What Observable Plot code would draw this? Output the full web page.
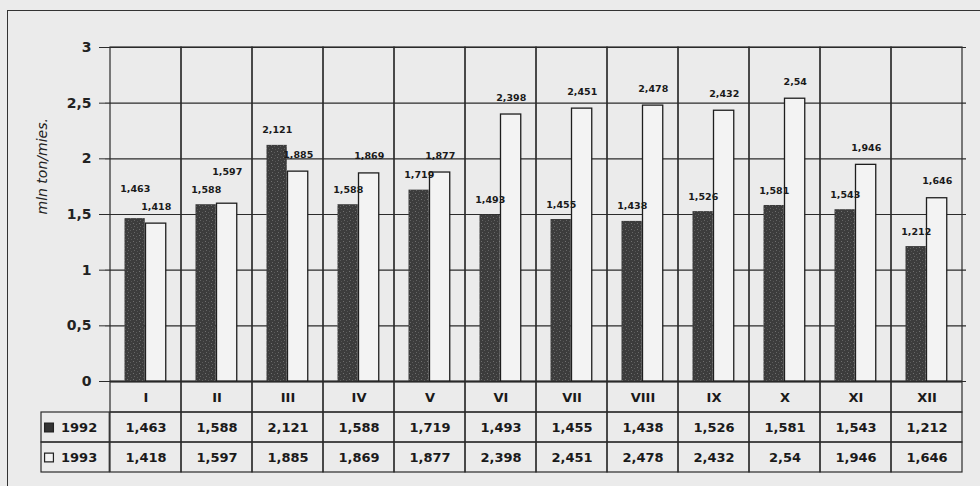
<!DOCTYPE html>
<html>
<head>
<meta charset="utf-8">
<script src="https://cdn.jsdelivr.net/npm/d3@7"></script>
<script src="https://cdn.jsdelivr.net/npm/@observablehq/plot@0.6"></script>
<style>
  html, body { margin: 0; padding: 0; background: #ebebeb; }
  #wrap { position: relative; width: 980px; height: 486px; overflow: hidden; background: #ebebeb; }
  #frame { position: absolute; left: 7px; top: 10px; width: 980px; height: 490px;
           border-left: 1.5px solid #333; border-top: 1.5px solid #333; }
  #chart { position: absolute; left: 0; top: 0; }
  #table { position: absolute; left: 0; top: 381px; }
  svg { overflow: visible; }
</style>
</head>
<body>
<div id="wrap">
  <div id="frame"></div>
  <div id="chart"></div>
  <div id="table"></div>
</div>
<script>
const months = ["I","II","III","IV","V","VI","VII","VIII","IX","X","XI","XII"];
const v1992 = [1.463, 1.588, 2.121, 1.588, 1.719, 1.493, 1.455, 1.438, 1.526, 1.581, 1.543, 1.212];
const v1993 = [1.418, 1.597, 1.885, 1.869, 1.877, 2.398, 2.451, 2.478, 2.432, 2.54, 1.946, 1.646];
const years = ["1992", "1993"];
const yTicks = [0, 0.5, 1, 1.5, 2, 2.5, 3];
const yLabel = "mln ton/mies.";

const fmt = v => String(v).replace(".", ",");
const font = "DejaVu Sans, Arial, sans-serif";
const ink = "#2b2b2b";

// label of the taller bar is lifted when the two bars of a month are nearly equal
const d92 = months.map((m, i) => ({month: m, value: v1992[i],
  lift: Math.abs(v1992[i] - v1993[i]) < 0.1 && v1992[i] > v1993[i]}));
const d93 = months.map((m, i) => ({month: m, value: v1993[i],
  lift: Math.abs(v1992[i] - v1993[i]) < 0.1 && v1993[i] > v1992[i]}));

const labelStyle = {x: "month", y: "value", text: d => fmt(d.value),
                    fontSize: 9.5, fontWeight: "bold", fill: "#1a1a1a"};

const chart = Plot.plot({
  width: 980,
  height: 382,
  marginTop: 47,
  marginBottom: 1,
  marginLeft: 105,
  marginRight: 14,
  style: {background: "transparent", fontFamily: font},
  x: {domain: months, padding: 0, axis: null},
  y: {domain: [0, 3], axis: null},
  marks: [
    Plot.gridY(yTicks, {stroke: ink, strokeOpacity: 1, strokeWidth: 1.2}),
    Plot.axisY({ticks: yTicks, tickSize: 6, tickPadding: 8, tickFormat: fmt, label: null,
                fontSize: 14, fontWeight: "bold", fill: "#222", stroke: ink}),
    Plot.cell(months, {x: d => d, fill: "none", stroke: ink, strokeWidth: 1.2}),
    Plot.barY(d92, {x: "month", y: "value", fill: "url(#grain)", insetLeft: 14.5, insetRight: 36.25}),
    Plot.barY(d93, {x: "month", y: "value", fill: "#f3f3f3", stroke: "#1e1e1e", strokeWidth: 1.3,
                    insetLeft: 35.5, insetRight: 15.25}),
    Plot.text(d92.filter(d => !d.lift), {...labelStyle, dx: -10.75, dy: -15}),
    Plot.text(d92.filter(d => d.lift), {...labelStyle, dx: -10.75, dy: -30}),
    Plot.text(d93.filter(d => !d.lift), {...labelStyle, dx: 10.25, dy: -17}),
    Plot.text(d93.filter(d => d.lift), {...labelStyle, dx: 10.25, dy: -32}),
    Plot.text([yLabel], {text: d => d, frameAnchor: "left", dx: -63, rotate: -90,
                         fontSize: 14, fontStyle: "italic", fill: "#222"})
  ]
});
chart.insertAdjacentHTML("afterbegin",
  `<defs><pattern id="grain" width="6" height="6" patternUnits="userSpaceOnUse">
     <rect width="6" height="6" fill="#3c3c3c"/>
     <rect x="1" y="1" width="1" height="1" fill="#707070"/>
     <rect x="4" y="2" width="1" height="1" fill="#5c5c5c"/>
     <rect x="2" y="4" width="1" height="1" fill="#666"/>
     <rect x="5" y="5" width="1" height="1" fill="#555"/>
   </pattern></defs>`);
document.getElementById("chart").appendChild(chart);

const rows = months.flatMap((m, i) => [
  {month: m, year: "1992", value: v1992[i]},
  {month: m, year: "1993", value: v1993[i]}
]);

const table = Plot.plot({
  width: 980,
  height: 92,
  marginTop: 0,
  marginBottom: 1,
  marginLeft: 105,
  marginRight: 14,
  style: {background: "transparent", fontFamily: font},
  x: {domain: months, padding: 0, axis: null},
  y: {domain: ["month", ...years], padding: 0, axis: null},
  marks: [
    Plot.cell(months, {x: d => d, y: () => "month", fill: "none", stroke: ink, strokeWidth: 1.2}),
    Plot.cell(rows, {x: "month", y: "year", fill: "none", stroke: ink, strokeWidth: 1.2}),
    Plot.cell(years, {x: () => months[0], y: d => d, fill: "none", stroke: ink, strokeWidth: 1.2,
                      insetLeft: -69, insetRight: 71.75}),
    Plot.text(months, {x: d => d, y: () => "month", text: d => d,
                       fontSize: 13, fontWeight: "bold", fill: "#1a1a1a"}),
    Plot.text(rows, {x: "month", y: "year", text: d => fmt(d.value),
                     fontSize: 13, fontWeight: "bold", fill: "#1a1a1a"}),
    Plot.dot(years, {x: () => months[0], y: d => d, symbol: "square", r: 5,
                     fill: d => d === "1992" ? "#333" : "#f3f3f3", stroke: "#222", strokeWidth: 1.2, dx: -97}),
    Plot.text(years, {x: () => months[0], y: d => d, text: d => d, textAnchor: "start", dx: -85,
                      fontSize: 13, fontWeight: "bold", fill: "#1a1a1a"})
  ]
});
document.getElementById("table").appendChild(table);
</script>
</body>
</html>
